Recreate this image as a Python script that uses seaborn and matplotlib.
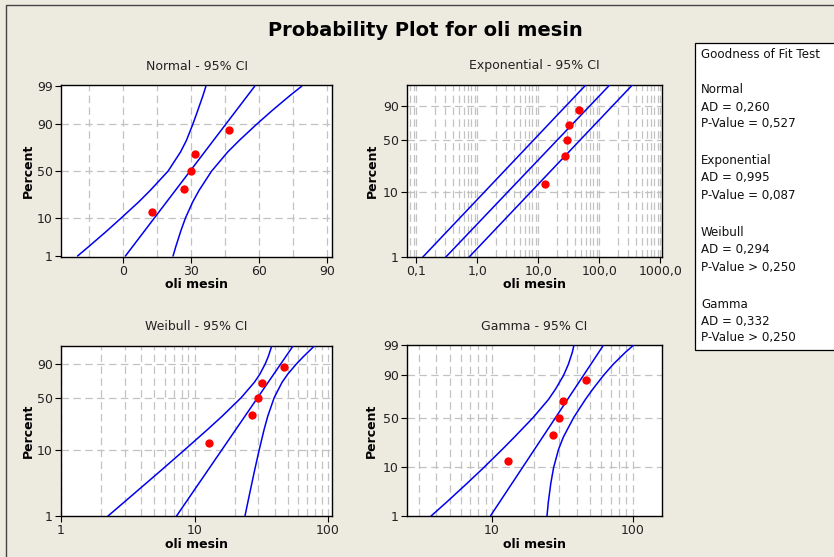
import math
import numpy as np
import pandas as pd
import matplotlib
matplotlib.use("Agg")
import matplotlib.pyplot as plt
import seaborn as sns
from matplotlib.patches import Rectangle
from matplotlib.ticker import FixedLocator, NullLocator, LogLocator, MultipleLocator

# ---------------- data ----------------
values = [12.9, 27.0, 30.0, 32.0, 47.0]            # oli mesin
percents = [12.96, 31.48, 50.0, 68.52, 87.04]      # plotting positions (%)

# Normal panel
norm_pct = [1, 2, 5, 10, 20, 30, 50, 70, 80, 90, 95, 98, 99]
norm_lower = [-19.9, -14.7, -7.1, -0.6, 7.1, 12.2, 20.0, 25.5, 28.1, 30.9, 33.0, 35.3, 36.7]
norm_upper = [22.2, 23.5, 25.6, 27.7, 30.9, 33.7, 39.2, 46.3, 51.4, 59.0, 65.6, 73.4, 78.9]
norm_fit_pct = [1, 99]
norm_fit = [1.2, 58.2]

# Exponential panel
exp_pct = [1, 99.3]
exp_lower = [0.128, 60.0]
exp_fit = [0.305, 148.0]
exp_upper = [0.735, 348.0]

# Weibull panel
wb_pct = [1, 2, 5, 10, 20, 30, 50, 70, 80, 90, 95, 98.77]
wb_lower = [2.25, 3.33, 5.61, 8.35, 12.56, 16.09, 22.35, 28.09, 30.85, 33.78, 35.61, 37.87]
wb_upper = [23.86, 25.59, 28.16, 30.44, 33.21, 35.34, 39.48, 45.27, 49.93, 57.79, 65.21, 78.9]
wb_fit_pct = [1, 99]
wb_fit = [7.33, 55.5]

# Gamma panel
gm_pct = [1, 2, 5, 10, 20, 30, 50, 70, 80, 90, 95, 98, 99]
gm_lower = [3.68, 4.72, 6.63, 8.74, 11.83, 14.46, 19.6, 25.2, 28.3, 32.3, 34.9, 37.2, 38.3]
gm_upper = [24.6, 25.12, 26.18, 27.43, 29.73, 32.21, 38.07, 46.14, 52.15, 62.17, 72.73, 88.5, 101.9]
gm_fit_pct = [1, 99]
gm_fit = [9.73, 62.2]

gof_lines = [
    ("Normal", "AD = 0,260", "P-Value = 0,527"),
    ("Exponential", "AD = 0,995", "P-Value = 0,087"),
    ("Weibull", "AD = 0,294", "P-Value > 0,250"),
    ("Gamma", "AD = 0,332", "P-Value > 0,250"),
]

# ---------------- probability scales ----------------
_erf = np.vectorize(math.erf, otypes=[float])


def ncdf(z):
    return 0.5 * (1.0 + _erf(np.asarray(z, dtype=float) / math.sqrt(2.0)))


_A = [-3.969683028665376e+01, 2.209460984245205e+02, -2.759285104469687e+02,
      1.383577518672690e+02, -3.066479806614716e+01, 2.506628277459239e+00]
_B = [-5.447609879822406e+01, 1.615858368580409e+02, -1.556989798598866e+02,
      6.680131188771972e+01, -1.328068155288572e+01]
_C = [-7.784894002430293e-03, -3.223964580411365e-01, -2.400758277161838e+00,
      -2.549732539343734e+00, 4.374664141464968e+00, 2.938163982698783e+00]
_D = [7.784695709041462e-03, 3.224671290700398e-01, 2.445134137142996e+00,
      3.754408661907416e+00]


def _ppf_scalar(p):
    if not (0.0 < p < 1.0):
        return float("nan")
    plow = 0.02425
    if p < plow:
        q = math.sqrt(-2 * math.log(p))
        return (((((_C[0]*q+_C[1])*q+_C[2])*q+_C[3])*q+_C[4])*q+_C[5]) / \
               ((((_D[0]*q+_D[1])*q+_D[2])*q+_D[3])*q+1)
    if p > 1 - plow:
        q = math.sqrt(-2 * math.log(1 - p))
        return -(((((_C[0]*q+_C[1])*q+_C[2])*q+_C[3])*q+_C[4])*q+_C[5]) / \
                ((((_D[0]*q+_D[1])*q+_D[2])*q+_D[3])*q+1)
    q = p - 0.5
    r = q * q
    return (((((_A[0]*r+_A[1])*r+_A[2])*r+_A[3])*r+_A[4])*r+_A[5])*q / \
           (((((_B[0]*r+_B[1])*r+_B[2])*r+_B[3])*r+_B[4])*r+1)


_ppf = np.vectorize(_ppf_scalar, otypes=[float])


def _pclip(p):
    return np.clip(np.asarray(p, dtype=float) / 100.0, 1e-9, 1 - 1e-9)


def normal_fwd(p):
    return _ppf(_pclip(p))


def normal_inv(z):
    return 100.0 * ncdf(z)


def sev_fwd(p):
    q = _pclip(p)
    return np.log(-np.log1p(-q))


def sev_inv(y):
    with np.errstate(over="ignore"):
        return 100.0 * (1.0 - np.exp(-np.exp(np.asarray(y, dtype=float))))


GA, GB = 1 - 1 / 63.0, math.sqrt(1 / 63.0)


def gamma_fwd(p):
    return 3.0 * np.log(np.maximum(GA + GB * _ppf(_pclip(p)), 1e-9))


def gamma_inv(y):
    with np.errstate(over="ignore"):
        return 100.0 * ncdf((np.exp(np.asarray(y, dtype=float) / 3.0) - GA) / GB)


# ---------------- figure ----------------
sns.set_theme(style="white")
plt.rcParams["font.family"] = ["DejaVu Sans"]

W, H = 834, 557
BG = "#EDEAE0"
fig = plt.figure(figsize=(W / 100, H / 100), dpi=100)
fig.patch.set_facecolor(BG)


def fx(x):
    return x / W


def fy(y):
    return 1 - y / H


def rect(l, t, r, b):
    return [fx(l), fy(b), (r - l) / W, (b - t) / H]


GRID = dict(color="#C2C2C2", linewidth=0.9, linestyle=(0, (6, 3.5)))
BLUE = "#0000F0"
RED = "#FF0000"


def panel(box, title, fwd, inv, ylim, yticks, xlog, xlim, xticks, xlabels,
          lines, ylabel_x):
    l, t, r, b = box
    ax = fig.add_axes(rect(l, t, r, b))
    ax.set_facecolor("white")
    for curve_pct, curve_x in lines:
        d = pd.DataFrame({"x": curve_x, "p": curve_pct})
        sns.lineplot(data=d, x="x", y="p", ax=ax, color=BLUE, lw=1.1,
                     sort=False, estimator=None, zorder=3)
    pts = pd.DataFrame({"x": values, "p": percents})
    sns.scatterplot(data=pts, x="x", y="p", ax=ax, color=RED, s=36,
                    edgecolor=RED, linewidth=0, zorder=4)
    ax.set_yscale("function", functions=(fwd, inv))
    if xlog:
        ax.set_xscale("log")
        ax.xaxis.set_minor_locator(LogLocator(base=10, subs=np.arange(2, 10)))
    else:
        ax.xaxis.set_minor_locator(MultipleLocator(15))
    ax.set_xlim(*xlim)
    ax.set_ylim(*ylim)
    ax.set_xticks(xticks, xlabels)
    ax.yaxis.set_major_locator(FixedLocator(yticks))
    ax.set_yticks(yticks, [str(v) for v in yticks])
    ax.yaxis.set_minor_locator(NullLocator())
    ax.set_axisbelow(True)
    ax.grid(False)
    ax.grid(True, axis="x", which="both", **GRID)
    for v in (10, 50, 90):
        ax.axhline(v, zorder=0.5, **GRID)
    ax.tick_params(axis="both", which="major", direction="out", length=4,
                   width=0.8, color="black", labelsize=9, labelcolor="#222222",
                   pad=2, bottom=True, left=True)
    ax.tick_params(axis="both", which="minor", length=0)
    for s in ax.spines.values():
        s.set_color("black")
        s.set_linewidth(1.0)
    ax.set_xlabel("")
    ax.set_ylabel("")
    cx = (l + r) / 2
    fig.text(fx(cx), fy(t - 19), title, ha="center", va="center",
             fontsize=9.0, color="#222222")
    fig.text(fx(cx), fy(b + 28), "oli mesin", ha="center", va="center",
             fontsize=9, fontweight="bold", color="black")
    fig.text(fx(ylabel_x), fy((t + b) / 2), "Percent", ha="center",
             va="center", rotation=90, fontsize=9, fontweight="bold",
             color="black")
    return ax


panel((61, 85, 332, 257), "Normal - 95% CI", normal_fwd, normal_inv,
      (0.93, 99.09), [1, 10, 50, 90, 99], False, (-27.2, 92.3),
      [0, 30, 60, 90], ["0", "30", "60", "90"],
      [(norm_pct, norm_lower), (norm_pct, norm_upper),
       (norm_fit_pct, norm_fit)], 28)

panel((407, 85, 662, 257), "Exponential - 95% CI", sev_fwd, sev_inv,
      (1, 99.3), [1, 10, 50, 90], True, (0.0704, 1066),
      [0.1, 1, 10, 100, 1000], ["0,1", "1,0", "10,0", "100,0", "1000,0"],
      [(exp_pct, exp_lower), (exp_pct, exp_upper), (exp_pct, exp_fit)], 372)

panel((61, 346, 332, 516), "Weibull - 95% CI", sev_fwd, sev_inv,
      (1, 98.77), [1, 10, 50, 90], True, (1, 107),
      [1, 10, 100], ["1", "10", "100"],
      [(wb_pct, wb_lower), (wb_pct, wb_upper), (wb_fit_pct, wb_fit)], 28)

panel((407, 345, 662, 516), "Gamma - 95% CI", gamma_fwd, gamma_inv,
      (1, 99), [1, 10, 50, 90, 99], True, (2.48, 162),
      [10, 100], ["10", "100"],
      [(gm_pct, gm_lower), (gm_pct, gm_upper), (gm_fit_pct, gm_fit)], 371)

# main title
fig.text(fx(425), fy(31), "Probability Plot for oli mesin", ha="center",
         va="center", fontsize=14, fontweight="bold", color="black")

# outer frame
fig.add_artist(Rectangle((fx(6), -0.1), 1.5, fy(5) + 0.1,
                         transform=fig.transFigure, fill=False,
                         edgecolor="#444444", lw=1.0))

# goodness of fit box
fig.add_artist(Rectangle((fx(695), fy(350)), (W - 695 + 10) / W, (350 - 43) / H,
                         transform=fig.transFigure, facecolor="white",
                         edgecolor="black", lw=0.9))
fig.text(fx(701), fy(55), "Goodness of Fit Test", ha="left", va="center",
         fontsize=8.6, color="#111111")
for (name, ad, pv), y0 in zip(gof_lines, [90, 161, 233, 304]):
    for k, s in enumerate((name, ad, pv)):
        fig.text(fx(701), fy(y0 + 17 * k), s, ha="left", va="center",
                 fontsize=8.6, color="#111111")

fig.savefig("out.png", dpi=100, facecolor=BG)
